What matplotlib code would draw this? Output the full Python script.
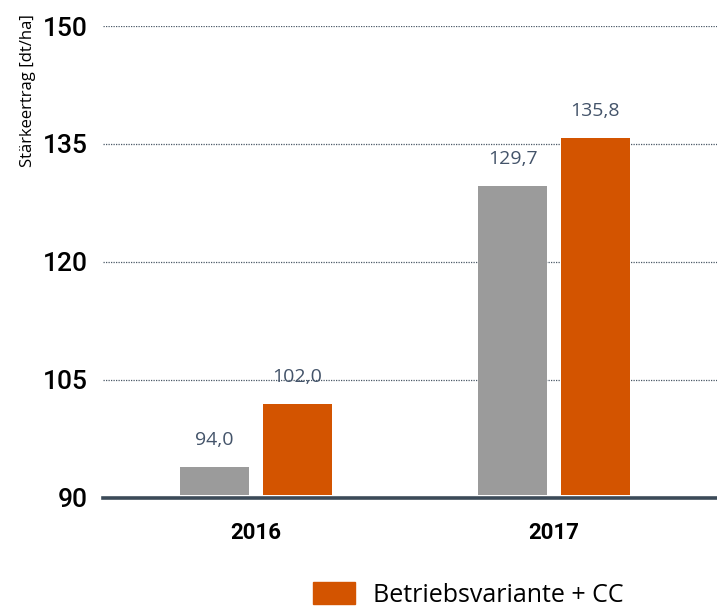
import numpy as np
import matplotlib
matplotlib.use('Agg')
import matplotlib.pyplot as plt
from matplotlib.patches import Patch

# Daten
jahre = ['2016', '2017']
betrieb = [94.0, 129.7]
betrieb_cc = [102.0, 135.8]
y_ticks = [90, 105, 120, 135, 150]
serien_name = 'Betriebsvariante + CC'

grau = '#9b9b9b'
orange = '#d35400'
dunkel = '#3b4a58'
wert_farbe = '#44546a'

fig = plt.figure(figsize=(7.17, 6.09), dpi=100)
ax = fig.add_axes([0.1437, 0.1823, 0.8563, 0.775])

x = np.arange(len(jahre))
breite = 0.2315
versatz = 0.139
basis = 90.35

b1 = ax.bar(x - versatz, np.array(betrieb) - basis, breite, bottom=basis, color=grau)
b2 = ax.bar(x + versatz, np.array(betrieb_cc) - basis, breite, bottom=basis, color=orange)

# Wertebeschriftung ueber den Balken
for rects, werte in ((b1, betrieb), (b2, betrieb_cc)):
    for r, v in zip(rects, werte):
        ax.text(r.get_x() + r.get_width() / 2, v + 3.4, f'{v:.1f}'.replace('.', ','),
                ha='center', va='center', fontsize=14, color=wert_farbe,
                family='Open Sans')

ax.set_xlim(-0.513, 1.547)
ax.set_ylim(90, 150)
ax.set_yticks(y_ticks)
ax.set_yticklabels([str(t) for t in y_ticks], family='Roboto', fontsize=19, fontweight='medium')
ax.set_xticks(x)
ax.set_xticklabels(jahre, family='Roboto', fontsize=16, fontweight='bold')
ax.tick_params(axis='y', length=0, pad=11)
ax.tick_params(axis='x', length=0, pad=17)

for t in y_ticks[1:]:
    ax.axhline(t, color='#4a5866', lw=0.9, ls=(0, (1, 1)), zorder=0)
ax.axhline(90, color=dunkel, lw=2.6, zorder=3, clip_on=False)

for s in ax.spines.values():
    s.set_visible(False)

ax.set_ylabel('Stärkeertrag [dt/ha]', family='Open Sans', fontsize=12)
ax.yaxis.set_label_coords(-0.109, 0.864)

fig.legend(handles=[Patch(color=orange)], labels=[serien_name],
           loc='lower left', bbox_to_anchor=(0.405, -0.035), frameon=False,
           prop={'family': 'Open Sans', 'size': 18}, handlelength=1.7,
           handleheight=1.0, handletextpad=0.7)

fig.savefig('out.png', dpi=100)
